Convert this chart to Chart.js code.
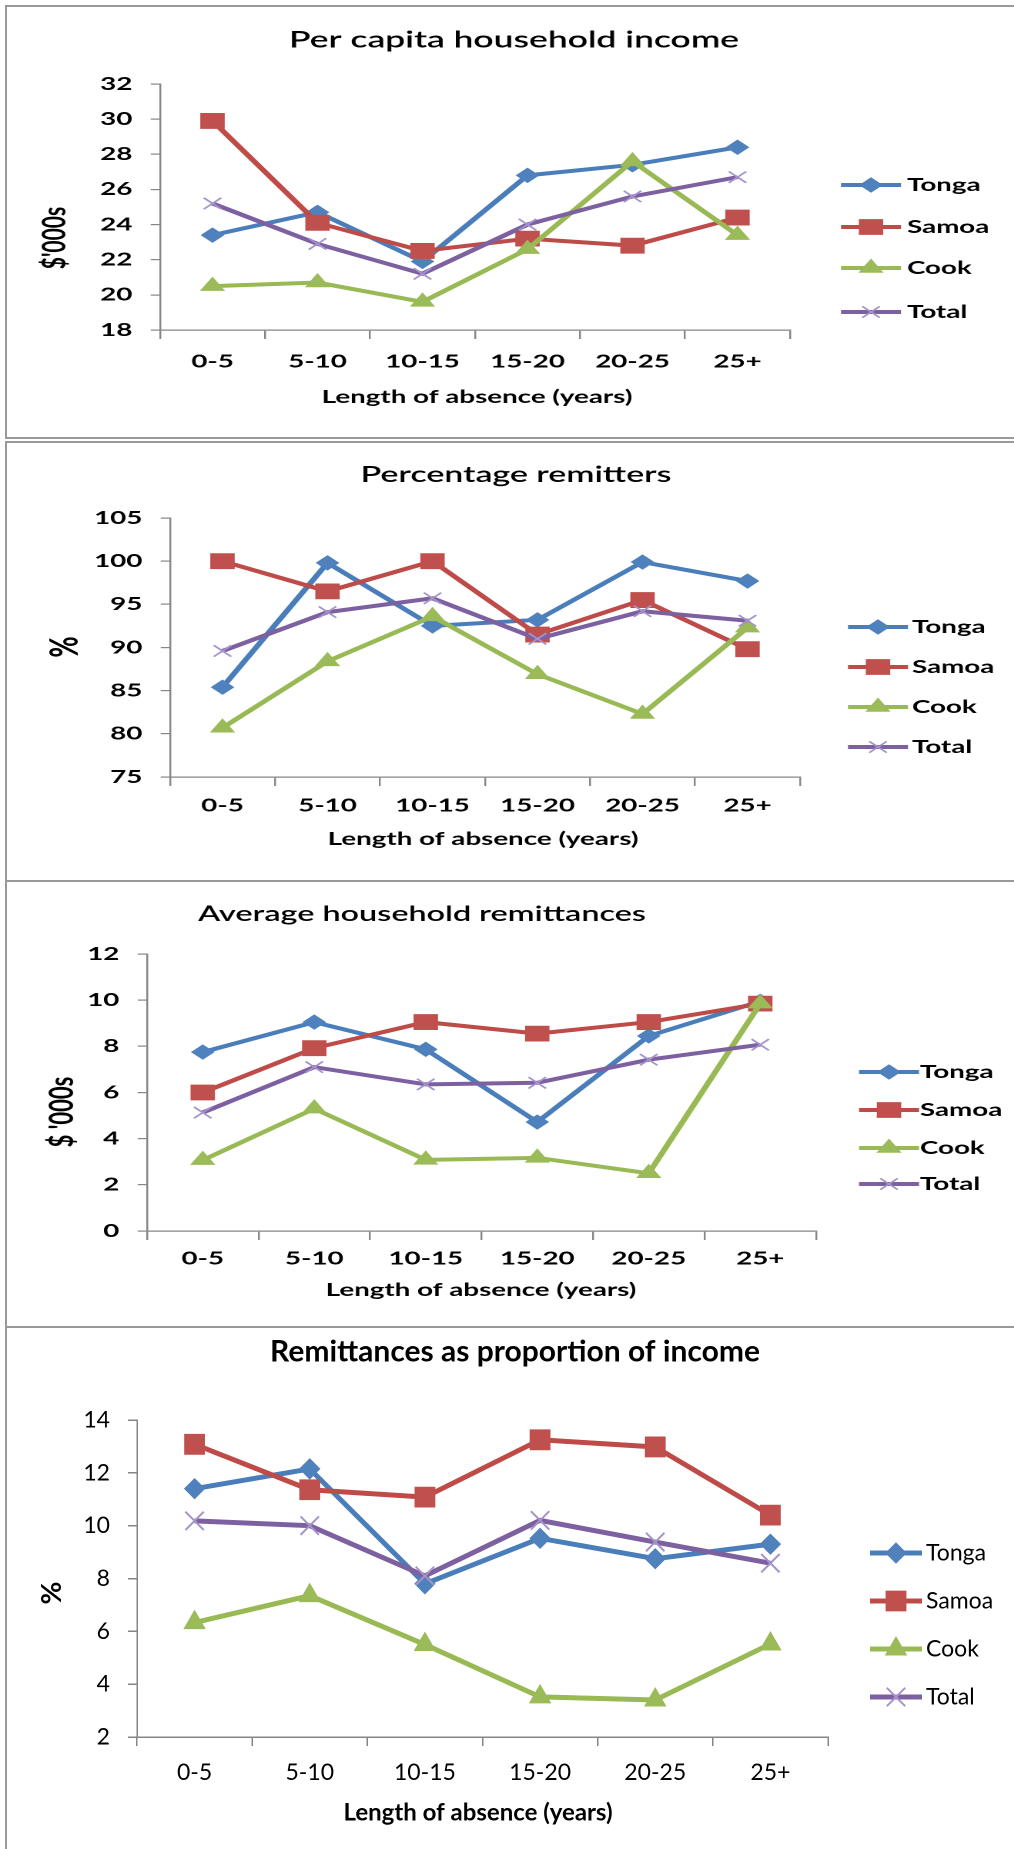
<!DOCTYPE html>
<html>
<head>
<meta charset="utf-8">
<title>Income and remittances by length of absence</title>
<script src="https://cdn.jsdelivr.net/npm/chart.js@4.4.1/dist/chart.umd.min.js"></script>
<style>
  html, body { margin: 0; padding: 0; background: #fff; }
  body { position: relative; width: 1014px; height: 1849px; overflow: hidden; }
  .frame { position: absolute; left: 5px; width: 1100px; border: 2px solid #999; box-sizing: border-box; }
  .wrap { position: absolute; left: 0; transform-origin: 0 0; }
</style>
</head>
<body>
<div class="frame" style="top:5px;height:434px"></div>
<div class="frame" style="top:441px;height:441px"></div>
<div class="frame" style="top:880px;height:448px"></div>
<div class="frame" style="top:1326px;height:600px"></div>
<div class="wrap" id="w1"><canvas id="c1"></canvas></div>
<div class="wrap" id="w2"><canvas id="c2"></canvas></div>
<div class="wrap" id="w3"><canvas id="c3"></canvas></div>
<div class="wrap" id="w4"><canvas id="c4"></canvas></div>
<script>
const categories = ["0-5", "5-10", "10-15", "15-20", "20-25", "25+"];
const seriesNames = ["Tonga", "Samoa", "Cook", "Total"];

// Per capita household income ($'000s)
const incomeTonga = [23.4, 24.7, 21.9, 26.8, 27.4, 28.4];
const incomeSamoa = [29.9, 24.1, 22.5, 23.2, 22.8, 24.4];
const incomeCook = [20.5, 20.7, 19.6, 22.6, 27.6, 23.4];
const incomeTotal = [25.2, 22.9, 21.2, 24.0, 25.6, 26.7];
const incomeTicks = [18, 32, 2];

// Percentage remitters (%)
const remitTonga = [85.4, 99.8, 92.5, 93.2, 99.9, 97.7];
const remitSamoa = [100, 96.5, 100, 91.5, 95.5, 89.8];
const remitCook = [80.7, 88.4, 93.6, 86.9, 82.3, 92.3];
const remitTotal = [89.6, 94.1, 95.7, 91.0, 94.2, 93.1];
const remitTicks = [75, 105, 5];

// Average household remittances ($'000s)
const avgTonga = [7.75, 9.05, 7.87, 4.72, 8.45, 9.95];
const avgSamoa = [6.0, 7.92, 9.05, 8.55, 9.05, 9.85];
const avgCook = [3.07, 5.3, 3.08, 3.17, 2.5, 9.85];
const avgTotal = [5.13, 7.1, 6.35, 6.42, 7.42, 8.07];
const avgTicks = [0, 12, 2];

// Remittances as proportion of income (%)
const shareTonga = [11.4, 12.15, 7.8, 9.52, 8.75, 9.3];
const shareSamoa = [13.08, 11.36, 11.08, 13.25, 12.98, 10.4];
const shareCook = [6.33, 7.35, 5.5, 3.52, 3.4, 5.52];
const shareTotal = [10.18, 10.0, 8.1, 10.2, 9.38, 8.58];
const shareTicks = [2, 14, 2];

const lineColors = ["#4a7ebb", "#be4b48", "#98b954", "#7d60a0"];
const markerColors = ["#4f81bd", "#c0504d", "#9bbb59", "#a593cc"];
const markerStyles = ["rectRot", "rect", "triangle", "crossRot"];
const axisGray = "#868686";

// x/y below are page pixels; px/py turn them into canvas pixels
const px = (L, x) => x / L.sx;
const py = (L, y) => y - L.top;

const panelText = {
  id: "panelText",
  afterDraw(chart, args, o) {
    const L = o.layout, ctx = chart.ctx;
    ctx.save();
    ctx.fillStyle = "#000";
    ctx.textBaseline = "middle";
    ctx.textAlign = "center";
    ctx.font = L.titleFont;
    ctx.fillText(o.title, px(L, L.titleX), py(L, L.titleY));
    ctx.font = L.axisFont;
    ctx.fillText(o.xTitle, px(L, L.xTitleX), py(L, L.xTitleY));
    ctx.save();
    ctx.translate(px(L, L.yTitleX), py(L, L.yTitleY));
    ctx.rotate(-Math.PI / 2);
    ctx.font = L.yTitleFont;
    ctx.fillText(o.yTitle, 0, 0);
    ctx.restore();

    // legend: line segment with the series marker in the middle
    ctx.font = L.legendFont;
    ctx.textAlign = "left";
    chart.data.datasets.forEach((ds, i) => {
      const y = py(L, L.legendRows[i]);
      const mx = px(L, L.legendX);
      const half = L.legendHalf / L.sx;
      ctx.strokeStyle = ds.borderColor;
      ctx.lineWidth = ds.borderWidth;
      ctx.beginPath();
      ctx.moveTo(mx - half, y);
      ctx.lineTo(mx + half, y);
      ctx.stroke();
      ctx.fillStyle = ds.pointBackgroundColor;
      ctx.strokeStyle = ds.pointBorderColor;
      ctx.lineWidth = ds.pointBorderWidth;
      Chart.helpers.drawPoint(ctx, {
        pointStyle: ds.pointStyle, radius: ds.pointRadius,
        rotation: 0, borderWidth: ds.pointBorderWidth
      }, mx, y);
      ctx.fillStyle = "#000";
      ctx.fillText(ds.label, px(L, L.legendTextX), y);
    });
    ctx.restore();
  }
};

function buildChart(n, series, ticks, L, texts) {
  const W = Math.round(1014 / L.sx), H = L.height;
  const wrap = document.getElementById("w" + n);
  wrap.style.top = L.top + "px";
  wrap.style.width = W + "px";
  wrap.style.height = H + "px";
  wrap.style.transform = "scaleX(" + L.sx + ")";
  const canvas = document.getElementById("c" + n);
  canvas.width = W;
  canvas.height = H;
  canvas.style.width = W + "px";
  canvas.style.height = H + "px";

  const datasets = series.map((values, i) => ({
    label: seriesNames[i],
    data: values,
    borderColor: lineColors[i],
    borderWidth: L.lineWidth,
    backgroundColor: markerColors[i],
    pointStyle: markerStyles[i],
    pointRadius: L.radii[i],
    pointBackgroundColor: markerColors[i],
    pointBorderColor: markerColors[i],
    pointBorderWidth: i === 3 ? L.crossWidth : 1,
    tension: 0,
    fill: false,
    order: 4 - i
  }));

  const tickFont = { family: "Lato", size: L.tickSize, weight: L.tickWeight };

  return new Chart(canvas.getContext("2d"), {
    type: "line",
    data: { labels: categories, datasets: datasets },
    options: {
      responsive: false,
      animation: false,
      devicePixelRatio: 2,
      events: [],
      layout: {
        autoPadding: false,
        padding: { left: 0, top: py(L, L.plotTop), right: W - px(L, L.right), bottom: 0 }
      },
      plugins: {
        legend: { display: false },
        tooltip: { enabled: false },
        title: { display: false },
        panelText: Object.assign({ layout: L }, texts)
      },
      scales: {
        x: {
          offset: true,
          grid: { offset: true, drawOnChartArea: false, drawTicks: true, tickLength: 9, color: axisGray, lineWidth: L.axisWidth },
          border: { display: true, color: axisGray, width: L.axisWidth },
          ticks: { color: "#000", font: tickFont, padding: L.xPad, maxRotation: 0, autoSkip: false },
          afterFit(s) { s.height = H - py(L, L.plotBottom); }
        },
        y: {
          min: ticks[0],
          max: ticks[1],
          grid: { drawOnChartArea: false, drawTicks: true, tickLength: L.yTick, color: axisGray, lineWidth: L.axisWidth },
          border: { display: true, color: axisGray, width: L.axisWidth },
          ticks: { stepSize: ticks[2], color: "#000", font: tickFont, padding: L.yPad },
          afterFit(s) { s.width = px(L, L.left); }
        }
      }
    },
    plugins: [panelText]
  });
}

const smallPanel = {
  sx: 1.54, axisFont: "bold 18px Lato", legendFont: "bold 18px Lato",
  tickSize: 18, tickWeight: "bold", yPad: 12, yTick: 6,
  lineWidth: 4, radii: [7, 10.5, 8.5, 8], crossWidth: 1.5, axisWidth: 1.2, legendHalf: 30
};

buildChart(1, [incomeTonga, incomeSamoa, incomeCook, incomeTotal], incomeTicks,
  Object.assign({}, smallPanel, {
    top: 0, height: 438, left: 160, right: 790, plotTop: 84, plotBottom: 330, xPad: 12,
    titleFont: "600 23px Lato", yTitleFont: "bold 21px Lato",
    titleX: 514, titleY: 40, xTitleX: 477, xTitleY: 397, yTitleX: 55, yTitleY: 238,
    legendX: 871, legendTextX: 907, legendRows: [185, 227, 268, 312]
  }),
  { title: "Per capita household income", xTitle: "Length of absence (years)", yTitle: "$'000s" });

buildChart(2, [remitTonga, remitSamoa, remitCook, remitTotal], remitTicks,
  Object.assign({}, smallPanel, {
    top: 441, height: 440, left: 170, right: 800, plotTop: 518, plotBottom: 777, xPad: 9,
    titleFont: "600 22px Lato", yTitleFont: "bold 26px Lato",
    titleX: 516, titleY: 475, xTitleX: 483, xTitleY: 839, yTitleX: 65, yTitleY: 647,
    legendX: 878, legendTextX: 912, legendRows: [627, 667, 707, 747]
  }),
  { title: "Percentage remitters", xTitle: "Length of absence (years)", yTitle: "%" });

buildChart(3, [avgTonga, avgSamoa, avgCook, avgTotal], avgTicks,
  Object.assign({}, smallPanel, {
    top: 882, height: 440, left: 147, right: 816, plotTop: 954, plotBottom: 1231, xPad: 8,
    titleFont: "600 21px Lato", yTitleFont: "bold 22px Lato",
    titleX: 422, titleY: 914, xTitleX: 481, xTitleY: 1290, yTitleX: 62, yTitleY: 1112,
    legendX: 889, legendTextX: 920, legendRows: [1072, 1110, 1148, 1184]
  }),
  { title: "Average household remittances", xTitle: "Length of absence (years)", yTitle: "$ '000s" });

buildChart(4, [shareTonga, shareSamoa, shareCook, shareTotal], shareTicks, {
    sx: 1, top: 1328, height: 521, left: 137, right: 828, plotTop: 1420, plotBottom: 1737,
    titleFont: "bold 30px Lato", axisFont: "bold 24px Lato", yTitleFont: "bold 28px Lato",
    legendFont: "23px Lato", tickSize: 23, tickWeight: "normal", xPad: 13, yPad: 18, yTick: 9,
    lineWidth: 5, radii: [10, 14, 12, 13], crossWidth: 2, axisWidth: 1.5, legendHalf: 26,
    titleX: 515, titleY: 1352, xTitleX: 478, xTitleY: 1813, yTitleX: 52, yTitleY: 1593,
    legendX: 896, legendTextX: 926, legendRows: [1553, 1601, 1649, 1697]
  },
  { title: "Remittances as proportion of income", xTitle: "Length of absence (years)", yTitle: "%" });
</script>
</body>
</html>
